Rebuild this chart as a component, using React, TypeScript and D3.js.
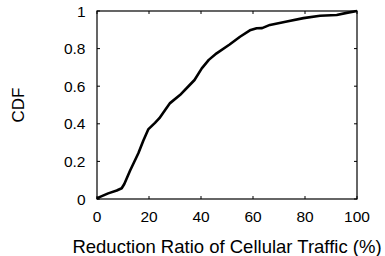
import { useEffect, useRef } from "react";
import * as d3 from "d3";

// CDF of reduction ratio
const ratio = [0, 0.5, 4.3, 7.6, 9.5, 10.5, 12.7, 15.9, 17.8, 19.7, 22.3, 24, 26.2, 28.1, 31.9, 35, 37.5, 40.3, 43, 46, 51, 55, 58.8, 61.4, 63.5, 66.5, 73, 79.4, 85.8, 92.2, 96, 100];
const cdf = [0, 0.007, 0.03, 0.045, 0.057, 0.08, 0.15, 0.243, 0.31, 0.37, 0.405, 0.43, 0.473, 0.51, 0.553, 0.597, 0.633, 0.695, 0.74, 0.775, 0.822, 0.863, 0.897, 0.908, 0.909, 0.926, 0.944, 0.962, 0.975, 0.979, 0.99, 1];
const xTicks = [0, 20, 40, 60, 80, 100];
const yTicks = [0, 0.2, 0.4, 0.6, 0.8, 1];

export default function App() {
    const ref = useRef<SVGSVGElement>(null);

    useEffect(() => {
        const svg = d3.select(ref.current);
        svg.selectAll("*").remove();

        const left = 97, right = 357, top = 11, bottom = 199;
        const font = "'Liberation Sans', Arial, sans-serif";

        const x = d3.scaleLinear().domain([0, 100]).range([left, right]);
        const y = d3.scaleLinear().domain([0, 1]).range([bottom, top]);

        // ticks, inward on all four sides
        const tick = 3;
        const g = svg.append("g").attr("stroke", "#000").attr("stroke-width", 1);
        xTicks.forEach(t => {
            g.append("line").attr("x1", x(t)).attr("x2", x(t)).attr("y1", bottom).attr("y2", bottom - tick);
            g.append("line").attr("x1", x(t)).attr("x2", x(t)).attr("y1", top).attr("y2", top + tick);
        });
        yTicks.forEach(t => {
            g.append("line").attr("x1", left).attr("x2", left + tick).attr("y1", y(t)).attr("y2", y(t));
            g.append("line").attr("x1", right).attr("x2", right - tick).attr("y1", y(t)).attr("y2", y(t));
        });

        // curve
        const pts: [number, number][] = ratio.map((r, i) => [r, cdf[i]]);
        const line = d3.line<[number, number]>()
            .x(d => x(d[0]))
            .y(d => y(d[1]));
        svg.append("path")
            .datum(pts)
            .attr("d", line)
            .attr("fill", "none")
            .attr("stroke", "#000")
            .attr("stroke-width", 2.6)
            .attr("stroke-linejoin", "round");

        // frame
        svg.append("rect")
            .attr("x", left).attr("y", top)
            .attr("width", right - left).attr("height", bottom - top)
            .attr("fill", "none").attr("stroke", "#000").attr("stroke-width", 1.2);

        // tick labels
        svg.append("g").selectAll("text")
            .data(xTicks).enter()
            .append("text")
            .attr("x", d => x(d))
            .attr("y", 222)
            .attr("text-anchor", "middle")
            .attr("font-family", font)
            .attr("font-size", 15.5)
            .text(d => d);

        svg.append("g").selectAll("text")
            .data(yTicks).enter()
            .append("text")
            .attr("x", 85.5)
            .attr("y", d => y(d) + 5.5)
            .attr("text-anchor", "end")
            .attr("font-family", font)
            .attr("font-size", 15.5)
            .text(d => d);

        // axis titles
        svg.append("text")
            .attr("x", (left + right) / 2)
            .attr("y", 252.5)
            .attr("text-anchor", "middle")
            .attr("font-family", font)
            .attr("font-size", 18.5)
            .text("Reduction Ratio of Cellular Traffic (%)");

        svg.append("text")
            .attr("transform", "translate(23.5," + ((top + bottom) / 2) + ") rotate(-90)")
            .attr("text-anchor", "middle")
            .attr("font-family", font)
            .attr("font-size", 17)
            .text("CDF");
    }, []);

    return (
        <svg ref={ref} width={385} height={256}
            style={{ position: "absolute", left: 0, top: 0, background: "#fff" }} />
    );
}
